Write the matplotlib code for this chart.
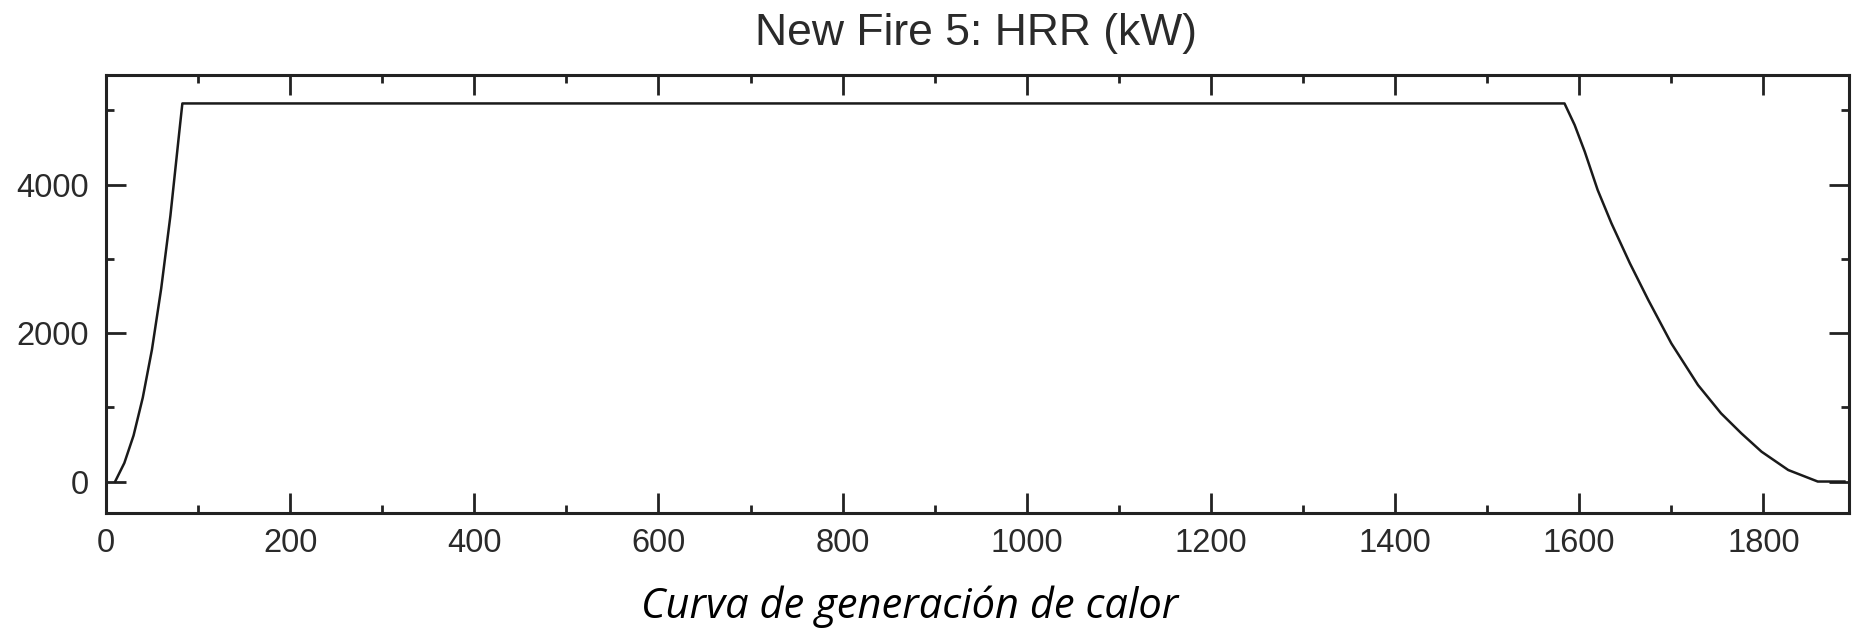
import numpy as np
import matplotlib.pyplot as plt
from matplotlib.ticker import MultipleLocator

# heat release rate curve, time (s) vs HRR (kW)
t_rise = [10, 20, 30, 40, 50, 60, 70, 80, 83]
q_rise = [0, 250, 620, 1130, 1780, 2600, 3580, 4750, 5095]

t_decay = [1584, 1595, 1606, 1620, 1635, 1655, 1675, 1700, 1729, 1754, 1776, 1798, 1827, 1859, 1888]
q_decay = [5095, 4805, 4445, 3929, 3479, 2941, 2446, 1862, 1300, 919, 650, 402, 155, 0, 0]

title = 'New Fire 5: HRR (kW)'
caption = 'Curva de generación de calor'

t = np.array(t_rise + t_decay)
q = np.array(q_rise + q_decay)

fig = plt.figure(figsize=(18.52, 6.32), dpi=100)
ax = fig.add_axes([0.0572, 0.1883, 0.9412, 0.6930])

ax.plot(t, q, color='#1a1a1a', lw=1.8)

ax.set_xlim(0, 1893)
ax.set_ylim(-424, 5478)
ax.xaxis.set_major_locator(MultipleLocator(200))
ax.xaxis.set_minor_locator(MultipleLocator(100))
ax.yaxis.set_major_locator(MultipleLocator(2000))
ax.yaxis.set_minor_locator(MultipleLocator(1000))

for s in ax.spines.values():
    s.set_linewidth(2.2)
    s.set_color('#222222')

ax.tick_params(which='both', direction='in', top=True, right=True,
               width=2.0, color='#222222', labelsize=23.5, labelcolor='#2a2a2a')
ax.tick_params(which='major', length=14.5)
ax.tick_params(which='minor', length=5.8)
ax.tick_params(axis='x', which='major', pad=11)
ax.tick_params(axis='y', which='major', pad=12)
for lab in ax.get_xticklabels() + ax.get_yticklabels():
    lab.set_family('Liberation Sans')

fig.text(0.527, 0.947, title, ha='center', va='center', fontsize=32,
         family='Liberation Sans', color='#2a2a2a')
fig.text(0.491, 0.040, caption, ha='center', va='center', fontsize=30,
         family='Open Sans', style='italic', color='black')

fig.savefig('out.png', dpi=100)
